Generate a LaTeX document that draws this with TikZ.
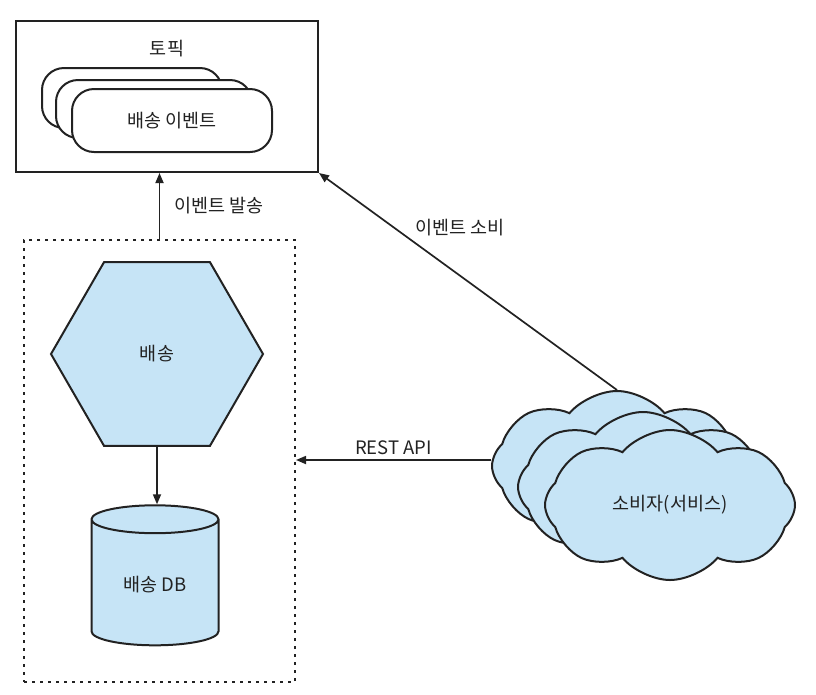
\documentclass[tikz,border=0pt]{standalone}
\usepackage{fontspec}
\setmainfont{Noto Sans CJK KR}
\usetikzlibrary{arrows.meta,shapes.geometric,shapes.symbols}
\definecolor{boxblue}{RGB}{198,228,246}
\definecolor{inkgray}{RGB}{34,34,34}

\begin{document}
\begin{tikzpicture}[x=1pt,y=-1pt,
    every node/.style={font=\fontsize{18.5}{22}\selectfont,text=inkgray},
    line/.style={draw=inkgray,line width=2pt},
    link/.style={draw=inkgray,line width=1.7pt,-{Triangle[length=10pt,width=8pt]}},
    event/.style={line,fill=white,rounded corners=22pt,minimum height=60pt},
    part/.style={line,fill=boxblue},
    puff/.style={part,cloud,cloud puffs=8,cloud puff arc=100,cloud ignores aspect,minimum width=250pt,minimum height=150pt}]
  \useasboundingbox (0,0) rectangle (816,694);

  % topic
  \node[line,minimum width=302pt,minimum height=151pt] (topic) at (167,96.5) {};
  \node (topiclabel) at (167,49) {토픽};
  \node[event,minimum width=180pt] (ev1) at (132,98) {};
  \node[event,minimum width=196pt,minimum height=58pt] (ev2) at (154,109) {};
  \node[event,minimum width=200pt,minimum height=63pt] (ev3) at (172,120.5) {배송 이벤트};

  % shipping service
  \node[draw=inkgray,line width=2pt,dash pattern=on 3pt off 5pt,minimum width=271pt,minimum height=442pt] (svc) at (159.5,461) {};
  \node[part,regular polygon,regular polygon sides=6,minimum size=212pt,inner sep=0pt] (ship) at (157,354) {배송};
  \node[part,cylinder,shape border rotate=90,aspect=0.4,minimum width=127pt,minimum height=140pt] (db) at (155,585) {배송 DB};

  % consumers
  \node[puff] (c1) at (617,466) {};
  \node[puff] (c2) at (643,487) {};
  \node[puff] (c3) at (670,505) {소비자(서비스)};

  \draw[link] (svc.north) -- (svc.north |- topic.south) node[midway,right=11pt] {이벤트 발송};
  \draw[link] (ship.south) -- (ship.south |- db.north);
  \draw[link] ([yshift=6pt]c1.west) -- ([yshift=6pt]c1.west -| svc.east) node[midway,above=1pt] {REST API};
  \draw[link] (c1.north) -- (topic.south east) node[pos=0.69,anchor=south west] {이벤트 소비};
\end{tikzpicture}
\end{document}
